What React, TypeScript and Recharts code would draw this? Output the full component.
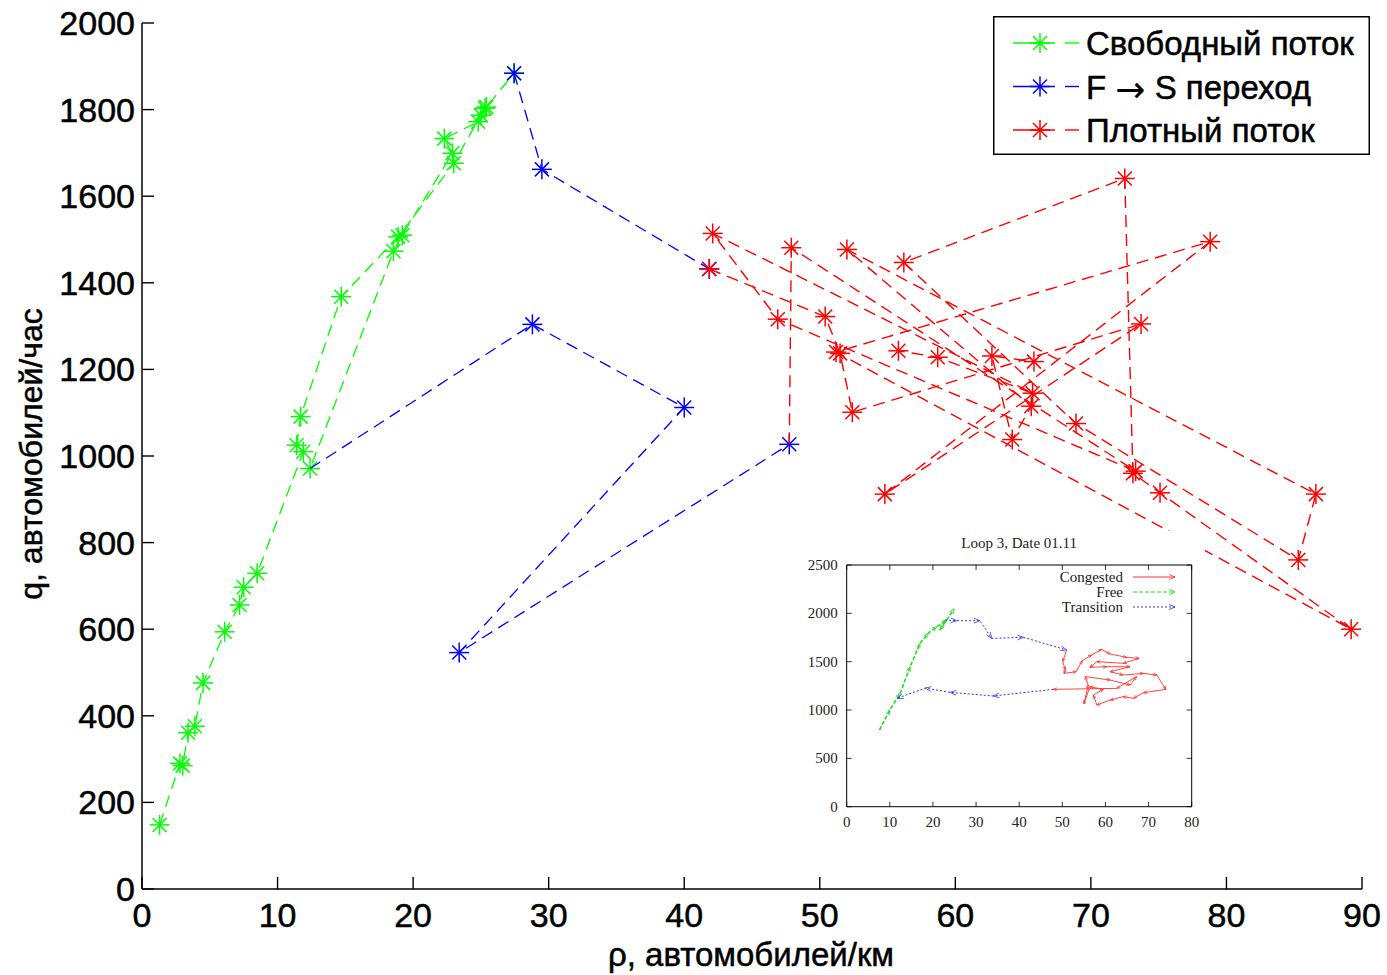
import { ScatterChart, Scatter, XAxis, YAxis, Label, ReferenceArea } from "recharts";

const FONT = "'Liberation Sans', Arial, sans-serif";
const SERIF = "'Liberation Serif', 'Times New Roman', serif";
const GREEN = "#00ff00";
const BLUE = "#0000ff";
const RED = "#ff0000";

const xTicks = [0, 10, 20, 30, 40, 50, 60, 70, 80, 90];
const yTicks = [0, 200, 400, 600, 800, 1000, 1200, 1400, 1600, 1800, 2000];

// free flow, night/morning rise (rho veh/km, q veh/h)
const freeRise = [
  { rho: 1.3, q: 148 }, { rho: 2.8, q: 290 }, { rho: 3.0, q: 285 }, { rho: 3.4, q: 361 },
  { rho: 3.9, q: 376 }, { rho: 4.5, q: 476 }, { rho: 6.1, q: 594 }, { rho: 7.2, q: 656 },
  { rho: 7.5, q: 697 }, { rho: 8.5, q: 729 }, { rho: 11.9, q: 1010 }, { rho: 11.4, q: 1025 },
  { rho: 11.7, q: 1091 }, { rho: 14.7, q: 1368 }, { rho: 18.9, q: 1506 }, { rho: 23.0, q: 1676 },
  { rho: 25.0, q: 1787 }, { rho: 25.4, q: 1806 }, { rho: 27.45, q: 1884 },
];
// free flow, second episode going down
const freeFall = [
  { rho: 25.3, q: 1803 }, { rho: 24.8, q: 1772 }, { rho: 22.3, q: 1733 }, { rho: 22.9, q: 1699 },
  { rho: 19.2, q: 1510 }, { rho: 18.55, q: 1473 }, { rho: 12.4, q: 971 },
];
// F -> S transitions
const transFirst = [
  { rho: 27.45, q: 1884 }, { rho: 29.5, q: 1662 }, { rho: 41.85, q: 1432 },
];
const transSecond = [
  { rho: 12.4, q: 971 }, { rho: 28.8, q: 1304 }, { rho: 40.0, q: 1112 },
  { rho: 23.4, q: 546 }, { rho: 47.75, q: 1027 },
];
// synchronized (dense) flow
const denseFirst = [
  { rho: 41.85, q: 1432 }, { rho: 50.4, q: 1322 }, { rho: 51.5, q: 1237 }, { rho: 52.4, q: 1101 },
  { rho: 73.7, q: 1305 }, { rho: 54.8, q: 912 }, { rho: 78.8, q: 1495 }, { rho: 51.2, q: 1240 },
  { rho: 89.2, q: 600 }, { rho: 75.1, q: 915 }, { rho: 73.1, q: 960 }, { rho: 72.5, q: 1641 },
  { rho: 56.2, q: 1447 }, { rho: 68.9, q: 1075 }, { rho: 85.3, q: 760 }, { rho: 86.6, q: 912 },
  { rho: 52.0, q: 1477 }, { rho: 65.6, q: 1115 }, { rho: 64.2, q: 1038 }, { rho: 62.7, q: 1231 },
  { rho: 65.8, q: 1218 },
];
const denseSecond = [
  { rho: 47.75, q: 1027 }, { rho: 47.9, q: 1481 }, { rho: 73.3, q: 965 }, { rho: 46.9, q: 1316 },
  { rho: 42.1, q: 1514 }, { rho: 65.7, q: 1145 }, { rho: 58.7, q: 1228 }, { rho: 55.8, q: 1243 },
];

const legendLabels = [["Свободный поток"], ["F ", "\u2192", " S переход"], ["Плотный поток"]];
const legendColors = [GREEN, BLUE, RED];

// inset (Loop 3, Date 01.11)
const insetXTicks = [0, 10, 20, 30, 40, 50, 60, 70, 80];
const insetYTicks = [0, 500, 1000, 1500, 2000, 2500];
const insetFree = [
  { rho: 7.6, q: 793 }, { rho: 10.0, q: 1000 }, { rho: 12.4, q: 1172 }, { rho: 14.7, q: 1448 },
  { rho: 17.0, q: 1690 }, { rho: 18.9, q: 1793 }, { rho: 20.9, q: 1862 }, { rho: 23.2, q: 1931 },
  { rho: 21.6, q: 1827 }, { rho: 24.9, q: 2045 },
];
const insetTransOut = [
  { rho: 22.8, q: 1931 }, { rho: 25.5, q: 1924 }, { rho: 30.9, q: 1924 }, { rho: 33.6, q: 1741 },
  { rho: 41.0, q: 1752 }, { rho: 51.0, q: 1621 },
];
const insetCongested = [
  { rho: 51.0, q: 1621 }, { rho: 50.1, q: 1500 }, { rho: 50.7, q: 1414 }, { rho: 50.4, q: 1379 },
  { rho: 53.2, q: 1396 }, { rho: 54.6, q: 1510 }, { rho: 56.8, q: 1569 }, { rho: 59.1, q: 1627 },
  { rho: 61.1, q: 1579 }, { rho: 64.9, q: 1545 }, { rho: 67.8, q: 1534 }, { rho: 64.1, q: 1483 },
  { rho: 58.0, q: 1500 }, { rho: 56.4, q: 1441 }, { rho: 60.3, q: 1448 }, { rho: 65.7, q: 1448 },
  { rho: 61.1, q: 1396 }, { rho: 64.1, q: 1362 }, { rho: 68.8, q: 1379 }, { rho: 71.9, q: 1362 },
  { rho: 74.0, q: 1214 }, { rho: 68.8, q: 1179 }, { rho: 66.5, q: 1121 }, { rho: 64.1, q: 1138 },
  { rho: 61.1, q: 1103 }, { rho: 58.0, q: 1052 }, { rho: 57.2, q: 1155 }, { rho: 59.5, q: 1214 },
  { rho: 56.4, q: 1241 }, { rho: 55.0, q: 1062 }, { rho: 56.0, q: 1259 }, { rho: 55.3, q: 1345 },
  { rho: 61.1, q: 1310 }, { rho: 65.7, q: 1259 }, { rho: 67.2, q: 1345 }, { rho: 62.6, q: 1224 },
  { rho: 47.9, q: 1214 },
];
const insetTransBack = [
  { rho: 47.9, q: 1214 }, { rho: 34.0, q: 1145 }, { rho: 24.0, q: 1183 }, { rho: 18.2, q: 1227 },
  { rho: 11.7, q: 1121 },
];
const insetLegend = ["Congested", "Free", "Transition"];

// main plot box (page pixels, body margin removed)
const PL = 142;
const PB = 889;
// inset plot box inside the inset svg
const IL = 51.7;
const IR = 396.7;
const IT = 34;
const IB = 275.7;

type Pt = { rho: number; q: number };

function Star({ cx, cy, color }: { cx: number; cy: number; color: string }) {
  const r = 10;
  const d = 7;
  return (
    <g stroke={color} strokeWidth={1.5}>
      <line x1={cx - r} y1={cy} x2={cx + r} y2={cy} />
      <line x1={cx} y1={cy - r} x2={cx} y2={cy + r} />
      <line x1={cx - d} y1={cy - d} x2={cx + d} y2={cy + d} />
      <line x1={cx - d} y1={cy + d} x2={cx + d} y2={cy - d} />
      <circle cx={cx} cy={cy} r={1.8} fill={color} stroke="none" />
    </g>
  );
}

const starShape = (color: string, skipFirst?: Pt) => (p: any) => {
  if (skipFirst && p.payload.rho === skipFirst.rho && p.payload.q === skipFirst.q) return <g />;
  return <Star cx={p.cx} cy={p.cy} color={color} />;
};

const arrowShape = (series: Pt[], color: string, size: number) => (p: any) => {
  const i = series.findIndex((d) => d.rho === p.payload.rho && d.q === p.payload.q);
  if (i <= 0) return <g />;
  const prev = series[i - 1];
  const dx = ((p.payload.rho - prev.rho) * (IR - IL)) / 80;
  const dy = (-(p.payload.q - prev.q) * (IB - IT)) / 2500;
  const len = Math.hypot(dx, dy) || 1;
  const ux = dx / len;
  const uy = dy / len;
  const bx = p.cx - ux * size;
  const by = p.cy - uy * size;
  const w = size * 0.4;
  return (
    <polyline
      points={`${bx - uy * w},${by + ux * w} ${p.cx},${p.cy} ${bx + uy * w},${by - ux * w}`}
      fill="none"
      stroke={color}
      strokeWidth={0.8}
    />
  );
};

const textInk = { fill: "#000", stroke: "#000", strokeWidth: 0.5 };

const MainXTick = ({ x, payload }: any) => (
  <g>
    <line x1={x} x2={x} y1={PB} y2={PB - 12} stroke="#000" strokeWidth={1.4} />
    <text x={x} y={927} textAnchor="middle" fontSize={34} fontFamily={FONT} {...textInk}>
      {payload.value}
    </text>
  </g>
);

const MainYTick = ({ y, payload }: any) => (
  <g>
    <line x1={PL} x2={PL + 12} y1={y} y2={y} stroke="#000" strokeWidth={1.4} />
    <text x={135} y={y + 12} textAnchor="end" fontSize={34} fontFamily={FONT} {...textInk}>
      {payload.value}
    </text>
  </g>
);

const InsetXTick = ({ x, payload }: any) => (
  <g stroke="#000" strokeWidth={0.8}>
    <line x1={x} x2={x} y1={IB} y2={IB - 5} />
    <line x1={x} x2={x} y1={IT} y2={IT + 5} />
    <text x={x} y={IB + 20} textAnchor="middle" fontSize={15} fontFamily={SERIF} fill="#222" stroke="none">
      {payload.value}
    </text>
  </g>
);

const InsetYTick = ({ y, payload }: any) => (
  <g stroke="#000" strokeWidth={0.8}>
    <line x1={IL} x2={IL + 5} y1={y} y2={y} />
    <line x1={IR} x2={IR - 5} y1={y} y2={y} />
    <text x={IL - 9} y={y + 5} textAnchor="end" fontSize={15} fontFamily={SERIF} fill="#222" stroke="none">
      {payload.value}
    </text>
  </g>
);

function MainLegend() {
  return (
    <svg width={377} height={139} style={{ position: "absolute", left: 993, top: 16 }}>
      <rect x={0.75} y={0.75} width={375.5} height={137.5} fill="#fff" stroke="#000" strokeWidth={1.5} />
      {legendLabels.map((parts, i) => {
        const cy = 27 + i * 43.5;
        const c = legendColors[i];
        return (
          <g key={i}>
            <line x1={20} x2={62} y1={cy} y2={cy} stroke={c} strokeWidth={1.4} />
            <line x1={72} x2={86} y1={cy} y2={cy} stroke={c} strokeWidth={1.4} />
            <Star cx={47} cy={cy} color={c} />
            <text x={93} y={cy + 12} fontSize={33} fontFamily={FONT} {...textInk}>
              {parts.map((s, k) =>
                s === "\u2192" ? (
                  <tspan key={k} fontFamily="'DejaVu Sans', sans-serif" fontSize={36} dy={3} strokeWidth={0.1}>
                    {s}
                  </tspan>
                ) : (
                  <tspan key={k} dy={k > 0 ? -3 : 0}>
                    {s}
                  </tspan>
                )
              )}
            </text>
          </g>
        );
      })}
    </svg>
  );
}

function Inset() {
  const colors = ["#ff3030", "#20e020", "#3030ff"];
  const dashes = [undefined, "4 2", "2 2"];
  return (
    <div style={{ position: "absolute", left: 795, top: 531, background: "#fff" }}>
      <ScatterChart width={410} height={311} margin={{ top: IT, right: 410 - IR, left: 0, bottom: 0 }}>
        <XAxis
          type="number"
          dataKey="rho"
          domain={[0, 80]}
          ticks={insetXTicks}
          interval={0}
          height={311 - IB}
          axisLine={false}
          tickLine={false}
          tick={<InsetXTick />}
        />
        <YAxis
          type="number"
          dataKey="q"
          domain={[0, 2500]}
          ticks={insetYTicks}
          interval={0}
          width={IL}
          axisLine={false}
          tickLine={false}
          tick={<InsetYTick />}
        />
        <ReferenceArea x1={0} x2={80} y1={0} y2={2500} fill="none" stroke="#000" strokeWidth={1} fillOpacity={0} />
        <Scatter
          data={insetFree}
          line={{ stroke: colors[1], strokeWidth: 1.6, strokeDasharray: "4 2" }}
          shape={arrowShape(insetFree, colors[1], 5)}
          isAnimationActive={false}
        />
        <Scatter
          data={insetTransOut}
          line={{ stroke: colors[2], strokeWidth: 1, strokeDasharray: "2 2" }}
          shape={arrowShape(insetTransOut, colors[2], 6)}
          isAnimationActive={false}
        />
        <Scatter
          data={insetTransBack}
          line={{ stroke: colors[2], strokeWidth: 1, strokeDasharray: "2 2" }}
          shape={arrowShape(insetTransBack, colors[2], 6)}
          isAnimationActive={false}
        />
        <Scatter
          data={insetCongested}
          line={{ stroke: colors[0], strokeWidth: 0.9 }}
          shape={arrowShape(insetCongested, colors[0], 3.5)}
          isAnimationActive={false}
        />
      </ScatterChart>
      <svg width={410} height={311} style={{ position: "absolute", left: 0, top: 0, pointerEvents: "none" }}>
        <text x={(IL + IR) / 2} y={17} textAnchor="middle" fontSize={15} fontFamily={SERIF} fill="#222">
          Loop 3, Date 01.11
        </text>
        {insetLegend.map((label, i) => {
          const y = 46 + i * 15;
          const c = colors[i];
          return (
            <g key={label}>
              <text x={328} y={y + 5} textAnchor="end" fontSize={15} fontFamily={SERIF} fill="#222">
                {label}
              </text>
              <line x1={338} x2={380} y1={y} y2={y} stroke={c} strokeWidth={1} strokeDasharray={dashes[i]} />
              <polyline points={`${374},${y - 2.5} ${380},${y} ${374},${y + 2.5}`} fill="none" stroke={c} strokeWidth={0.8} />
            </g>
          );
        })}
      </svg>
    </div>
  );
}

export default function App() {
  const dash = "12 7";
  return (
    <div style={{ position: "relative", width: 1387, height: 975, background: "#fff" }}>
      <style>{"body{margin:0;overflow:hidden}"}</style>
      <ScatterChart width={1387} height={975} margin={{ top: 23, right: 25, left: 0, bottom: 0 }}>
        <XAxis
          type="number"
          dataKey="rho"
          domain={[0, 90]}
          ticks={xTicks}
          interval={0}
          height={975 - PB}
          stroke="#000"
          strokeWidth={1.5}
          tickLine={false}
          tick={<MainXTick />}
        >
          <Label
            content={() => (
              <text x={751} y={966} textAnchor="middle" fontSize={33} fontFamily={FONT} {...textInk}>
                ρ, автомобилей/км
              </text>
            )}
          />
        </XAxis>
        <YAxis
          type="number"
          dataKey="q"
          domain={[0, 2000]}
          ticks={yTicks}
          interval={0}
          width={PL}
          stroke="#000"
          strokeWidth={1.5}
          tickLine={false}
          tick={<MainYTick />}
        >
          <Label
            content={() => (
              <text
                transform="translate(42,454) rotate(-90)"
                textAnchor="middle"
                fontSize={32}
                fontFamily={FONT}
                {...textInk}
              >
                q, автомобилей/час
              </text>
            )}
          />
        </YAxis>
        <Scatter
          data={freeRise}
          line={{ stroke: GREEN, strokeWidth: 1.3, strokeDasharray: dash }}
          shape={starShape(GREEN)}
          isAnimationActive={false}
        />
        <Scatter
          data={freeFall}
          line={{ stroke: GREEN, strokeWidth: 1.3, strokeDasharray: dash }}
          shape={starShape(GREEN)}
          isAnimationActive={false}
        />
        <Scatter
          data={transFirst}
          line={{ stroke: BLUE, strokeWidth: 1.3, strokeDasharray: dash }}
          shape={starShape(BLUE)}
          isAnimationActive={false}
        />
        <Scatter
          data={transSecond}
          line={{ stroke: BLUE, strokeWidth: 1.3, strokeDasharray: dash }}
          shape={starShape(BLUE, transSecond[0])}
          isAnimationActive={false}
        />
        <Scatter
          data={denseFirst}
          line={{ stroke: RED, strokeWidth: 1.4, strokeDasharray: dash }}
          shape={starShape(RED)}
          isAnimationActive={false}
        />
        <Scatter
          data={denseSecond}
          line={{ stroke: RED, strokeWidth: 1.4, strokeDasharray: dash }}
          shape={starShape(RED, denseSecond[0])}
          isAnimationActive={false}
        />
      </ScatterChart>
      <MainLegend />
      <Inset />
    </div>
  );
}
